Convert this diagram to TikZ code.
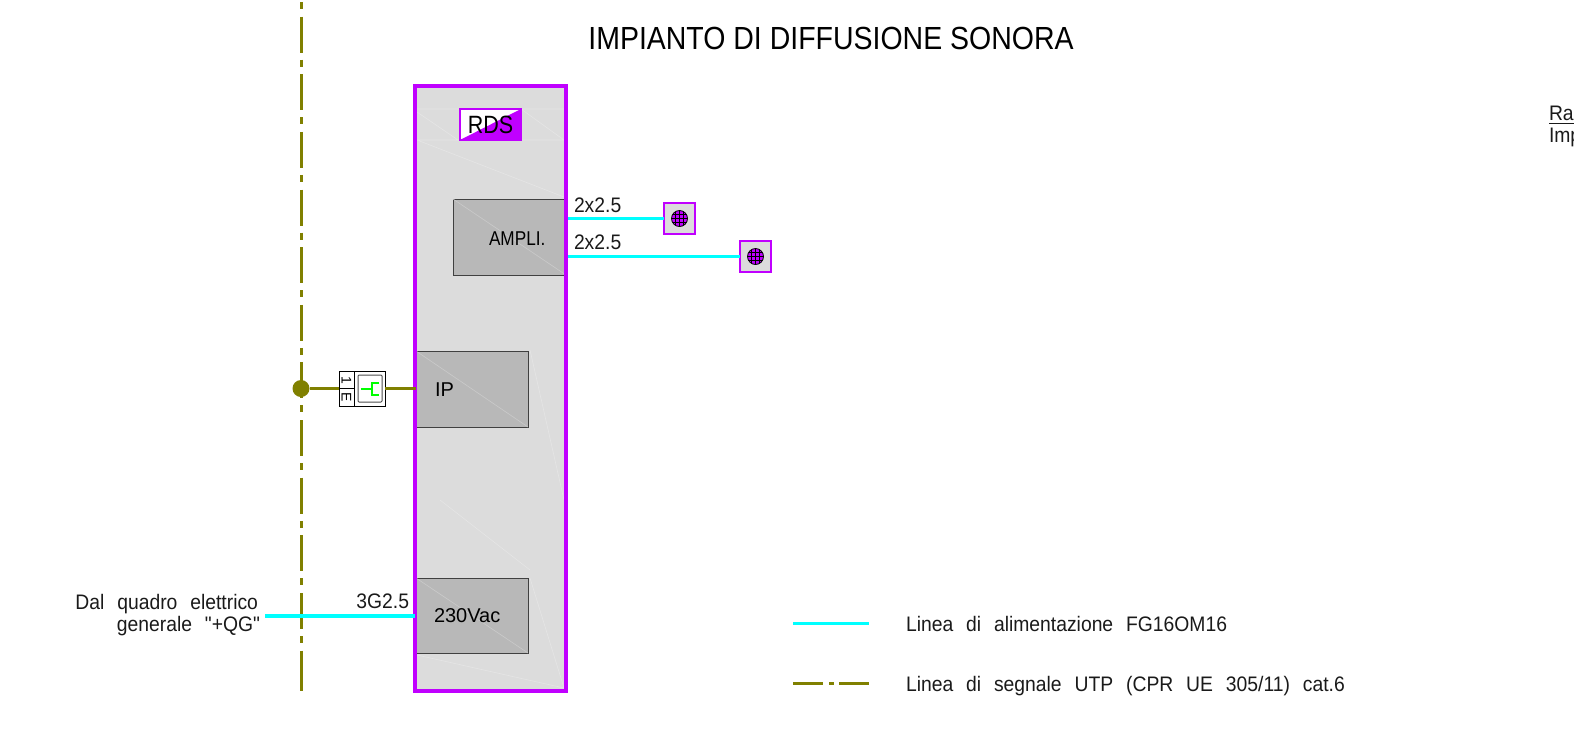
\documentclass[tikz,border=0pt]{standalone}
\usepackage{fontspec}
\setmainfont{Liberation Sans}
\newfontfamily\cad{Liberation Sans}[FakeStretch=0.92,WordSpace=2.4]
\newfontfamily\narrowf{Liberation Sans}[FakeStretch=0.86]
\newfontfamily\titlef{Liberation Sans}[FakeStretch=0.89]
\definecolor{mag}{HTML}{C000FF}
\definecolor{cy}{HTML}{00FFFF}
\definecolor{ol}{HTML}{808000}
\definecolor{pan}{HTML}{DCDCDC}
\definecolor{mod}{HTML}{B8B8B8}
\definecolor{gr}{HTML}{00FF00}
\definecolor{ink}{HTML}{1A1A1A}
\tikzset{
 x=1pt,y=-1pt,
 boxn/.style={inner sep=0pt,outer sep=0pt,anchor=north west},
 panel/.style={boxn,draw=mag,line width=3.2pt,fill=pan},
 modul/.style={boxn,draw=black!75,line width=1pt,fill=mod},
 spk/.style={inner sep=0pt,outer sep=0pt,draw=mag,line width=1.4pt,fill=pan,minimum width=31pt,minimum height=31pt},
 cyl/.style={draw=cy,line width=3.2pt},
 oll/.style={draw=ol,line width=3.4pt},
 txt/.style={inner sep=0pt,outer sep=0pt,text=ink,font=\cad\fontsize{21}{22}\selectfont},
 mtxt/.style={inner sep=0pt,outer sep=0pt,text=black,font=\fontsize{20}{22}\selectfont},
 faint/.style={draw=white!25!pan,line width=0.6pt},
 faintm/.style={draw=white!25!mod,line width=0.6pt},
}
\begin{document}
\begin{tikzpicture}
\useasboundingbox (0,0) rectangle (1574,732);
\clip (0,0) rectangle (1574,732);
\node[inner sep=0pt,anchor=center] (title) at (831,38) {\titlef\fontsize{32}{34}\selectfont IMPIANTO DI DIFFUSIONE SONORA};
% panel
\node[panel,minimum width=151pt,minimum height=605pt] (main) at (415,86) {};
\draw[faint] (417,109)--(564,109) (417,140)--(564,140) (417,140)--(564,197) (417,112)--(458,140) (521,109)--(564,140) (530,350)--(564,500) (440,500)--(530,570) (530,578)--(564,688) (417,655)--(564,688);
% signal line
\coordinate (lt) at (301.5,2);
\coordinate (lb) at (301.5,687);
\coordinate (lbb) at (301.5,691);
\draw[oll,dash pattern=on 7pt off 7.6pt on 36pt off 7.04pt] (lt)--(lb);
\draw[oll] (lb)--(lbb);
% modules
\node[modul,minimum width=113pt,minimum height=76pt] (ampli) at (453,199) {};
\node[modul,minimum width=112pt,minimum height=76pt] (ip) at (416,351) {};
\node[modul,minimum width=112pt,minimum height=75pt] (vac) at (416,578) {};
\draw[faintm] (ampli.north west)--(ampli.south east) (ip.north west)--(ip.south east) (vac.north west)--(vac.south east);
\draw[mag,line width=3.2pt] (main.north east)--(main.south east);
\draw[mag,line width=3.2pt] (main.north west)--(main.south west);
\node[mtxt,anchor=west,font=\narrowf\fontsize{20}{22}\selectfont] (tampli) at (489,239) {AMPLI.};
\node[mtxt,anchor=west] (tip) at (435,390) {IP};
\node[mtxt,anchor=west] (tvac) at (434,616) {230Vac};
% RDS
\node[boxn,minimum width=61pt,minimum height=31pt,fill=white] (rds) at (460,109) {};
\fill[mag] (rds.south west)--(rds.north east)--(rds.south east)--cycle;
\draw[mag,line width=1.2pt] (rds.north west) rectangle (rds.south east);
\node[inner sep=0pt,text=black,font=\narrowf\fontsize{25}{26}\selectfont] (trds) at (rds.center) {RDS};
% speakers
\node[spk] (s1) at (679.5,218.5) {};
\node[spk] (s2) at (755.5,256.5) {};
\foreach \s in {s1,s2}{
 \fill[mag] (\s) circle (8pt);
 \begin{scope}
  \clip (\s) circle (8pt);
  \draw[black,line width=0.7pt] ([xshift=-4pt]\s.center) ++(0,-9)--++(0,18) (\s.center) ++(0,-9)--++(0,18) ([xshift=4pt]\s.center) ++(0,-9)--++(0,18)
   ([yshift=4pt]\s.center) ++(-9,0)--++(18,0) (\s.center) ++(-9,0)--++(18,0) ([yshift=-4pt]\s.center) ++(-9,0)--++(18,0);
 \end{scope}
 \draw[black,line width=0.8pt] (\s) circle (8pt);
}
\coordinate (c1) at (568,218.5);
\coordinate (c2) at (568,256.5);
\draw[cyl] (c1)--(s1.west);
\draw[cyl] (c2)--(s2.west);
\node[txt,anchor=south west] (l1) at (574,213) {2x2.5};
\node[txt,anchor=south west] (l2) at (574,250) {2x2.5};
% outlet
\node[circle,fill=ol,inner sep=0pt,minimum size=17pt] (dot) at (301,388.5) {};
\node[boxn,draw=black,line width=1pt,fill=white,minimum width=46pt,minimum height=35pt] (sock) at (339,371) {};
\draw[oll] (dot)--(sock.west);
\draw[oll] (sock.east)--(ip.west |- sock.east);
\draw[black,line width=1pt] (354,371)--(354,406) (339,388.5)--(354,388.5);
\node[inner sep=0pt,rotate=-90,font=\fontsize{14}{14}\selectfont] (one) at (346.5,380) {1};
\node[inner sep=0pt,rotate=-90,font=\fontsize{14}{14}\selectfont] (ee) at (346.5,397.5) {E};
\draw[black!70,line width=1pt,rounded corners=1pt] (358,375) rectangle (382,402);
\draw[gr,line width=1.3pt] (361,389)--(372,389) (379,383)--(372,383)--(372,395)--(379,395);
% supply
\coordinate (sup) at (265,616);
\draw[cyl] (sup)--(main.west |- sup);
\node[txt,anchor=south east] (l3) at (409,609) {3G2.5};
\node[txt,anchor=east,align=right] (from) at (258,604) {Dal quadro elettrico};
\node[txt,anchor=east] (from2) at (260,626) {generale "+QG"};
% legend
\coordinate (a1) at (793,623.5);
\coordinate (a2) at (869,623.5);
\coordinate (b1) at (793,683.5);
\coordinate (b2) at (869,683.5);
\draw[cyl] (a1)--(a2);
\draw[oll,dash pattern=on 30pt off 6pt on 5pt off 5pt] (b1)--(b2);
\node[txt,anchor=west] (la) at (906,624) {Linea di alimentazione FG16OM16};
\node[txt,anchor=west] (lb2) at (906,686) {Linea di segnale UTP (CPR UE 305/11) cat.6};
% cut text at right edge
\node[txt,anchor=west] (cut1) at (1549,113) {Rac};
\node[txt,anchor=west] (cut2) at (1549,137) {Imp};
\draw[ink,line width=1pt] (cut1.south west |- 0,123.5)--(1574,123.5);
\end{tikzpicture}
\end{document}
